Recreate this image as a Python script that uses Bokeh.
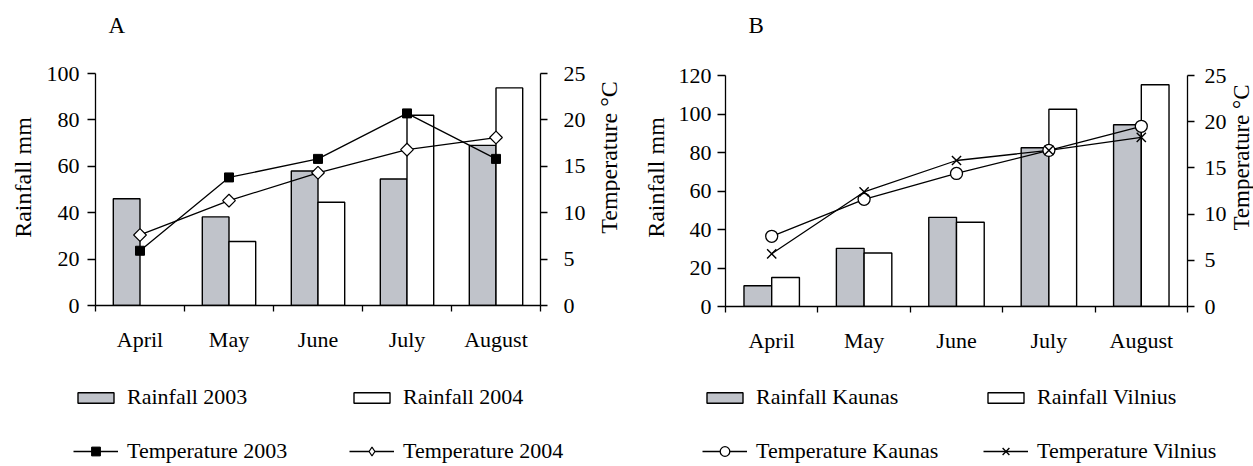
import math
import numpy as np
from bokeh.plotting import figure
from bokeh.models import Range1d, LinearAxis, FixedTicker, Legend, LegendItem, Label
from bokeh.layouts import row, column
from bokeh.embed import file_html
from bokeh.resources import INLINE

# ---------------- data ----------------
months = ["April", "May", "June", "July", "August"]

a_rain_2003 = [46.0, 38.2, 58.0, 54.5, 69.0]
a_rain_2004 = [float("nan"), 27.6, 44.5, 82.0, 93.8]
a_temp_2003 = [5.9, 13.8, 15.8, 20.7, 15.8]
a_temp_2004 = [7.6, 11.3, 14.3, 16.8, 18.1]

b_rain_kaunas = [10.8, 30.2, 46.3, 82.5, 94.4]
b_rain_vilnius = [15.1, 27.8, 43.8, 102.5, 115.2]
b_temp_kaunas = [7.6, 11.6, 14.4, 16.9, 19.5]
b_temp_vilnius = [5.7, 12.4, 15.8, 16.9, 18.3]

a_rain_ticks = [0, 20, 40, 60, 80, 100]
b_rain_ticks = [0, 20, 40, 60, 80, 100, 120]
temp_ticks = [0, 5, 10, 15, 20, 25]

a_names = ["Rainfall 2003", "Rainfall 2004", "Temperature 2003", "Temperature 2004"]
b_names = ["Rainfall Kaunas", "Rainfall Vilnius", "Temperature Kaunas", "Temperature Vilnius"]
rain_title = "Rainfall mm"
temp_title = "Temperature °C"

FONT = "Liberation Serif"
GREY = "#c0c3ca"
BAR1 = dict(fill_color=GREY, line_color="black", line_width=1.4)
BAR2 = dict(fill_color="white", line_color="black", line_width=1.4)
LINE = dict(line_color="black", line_width=1.3)
TITLE_H = 60
PANEL_H = 300


def bare_figure(width, height):
    q = figure(width=width, height=height, output_backend="svg", toolbar_location=None,
               title=None, x_range=Range1d(-0.5, len(months) - 0.5),
               y_range=Range1d(0, 1), min_border=0, x_axis_type=None, y_axis_type=None,
               frame_align=False)
    q.outline_line_color = None
    q.xgrid.visible = False
    q.ygrid.visible = False
    return q


def text_figure(text, width, height, x, y, size, angle=0, align="left",
                baseline="alphabetic"):
    q = bare_figure(width, height)
    q.add_layout(Label(x=x, y=y, x_units="screen", y_units="screen", text=text,
                       angle=angle, angle_units="deg", text_align=align,
                       text_baseline=baseline, text_font=FONT, text_font_size=size,
                       text_color="black"))
    return q


def style_text_axis(ax):
    ax.axis_line_color = "black"
    ax.axis_line_width = 1.3
    ax.major_label_text_font = FONT
    ax.major_label_text_font_size = "22px"
    ax.major_label_text_color = "black"
    ax.major_tick_in = 0
    ax.major_tick_line_width = 1.3


def make_panel(rain1, rain2, temp1, temp2, markers, rain_ticks, width, mb, l_std, r_std):
    n = len(months)
    idx = np.arange(n)
    left, right, top, bottom = mb
    p = figure(width=width, height=PANEL_H, output_backend="svg", toolbar_location=None,
               title=None, x_range=Range1d(-0.5, n - 0.5),
               y_range=Range1d(0, rain_ticks[-1]), frame_align=False,
               min_border_left=left, min_border_right=right,
               min_border_top=top, min_border_bottom=bottom)
    p.extra_y_ranges = {"temp": Range1d(0, temp_ticks[-1])}
    p.outline_line_color = None
    p.xgrid.visible = False
    p.ygrid.visible = False
    p.background_fill_color = "white"
    p.border_fill_color = "white"

    p.vbar(x=idx - 0.15, top=rain1, width=0.3, bottom=0, **BAR1)
    p.vbar(x=idx + 0.15, top=rain2, width=0.3, bottom=0, **BAR2)
    p.line(idx, temp1, y_range_name="temp", **LINE)
    p.line(idx, temp2, y_range_name="temp", **LINE)
    p.scatter(idx, temp1, y_range_name="temp", **markers[0])
    p.scatter(idx, temp2, y_range_name="temp", **markers[1])

    # x axis: labels at category centres, ticks at category boundaries
    xa = p.xaxis[0]
    xa.ticker = FixedTicker(ticks=list(range(n)),
                            minor_ticks=[i - 0.5 for i in range(n + 1)])
    xa.major_label_overrides = {i: m for i, m in enumerate(months)}
    style_text_axis(xa)
    xa.major_tick_line_color = None
    xa.major_tick_out = 0
    xa.minor_tick_line_color = "black"
    xa.minor_tick_line_width = 1.3
    xa.minor_tick_out = 6
    xa.minor_tick_in = 0
    xa.major_label_standoff = 15

    ya = p.yaxis[0]
    ya.ticker = FixedTicker(ticks=rain_ticks)
    style_text_axis(ya)
    ya.major_tick_out = 8
    ya.minor_tick_line_color = None
    ya.major_label_standoff = l_std

    ra = LinearAxis(y_range_name="temp", ticker=FixedTicker(ticks=temp_ticks))
    style_text_axis(ra)
    ra.major_tick_out = 7
    ra.minor_tick_line_color = None
    ra.major_label_standoff = r_std
    p.add_layout(ra, "right")
    return p


def make_legend(names, rain1, rain2, temp1, temp2, markers, width, x0, label_w, mk_h):
    """Figure holding the two legend rows; its renderers are hidden."""
    n = len(months)
    idx = np.arange(n)
    q = bare_figure(width, 106)
    r1 = q.vbar(x=idx, top=rain1, width=0.3, visible=False, **BAR1)
    r2 = q.vbar(x=idx, top=rain2, width=0.3, visible=False, **BAR2)
    l1 = q.line(idx, temp1, visible=False, **LINE)
    l2 = q.line(idx, temp2, visible=False, **LINE)
    s1 = q.scatter(idx, temp1, visible=False, **markers[0])
    s2 = q.scatter(idx, temp2, visible=False, **markers[1])
    common = dict(orientation="horizontal", glyph_width=45, label_standoff=9,
                  label_width=label_w, label_height=21, spacing=0, padding=0, margin=0,
                  border_line_color=None, background_fill_alpha=0,
                  inactive_fill_alpha=0, label_text_font=FONT,
                  label_text_font_size="22px", label_text_color="black")
    leg1 = Legend(items=[LegendItem(label=names[0], renderers=[r1]),
                         LegendItem(label=names[1], renderers=[r2])],
                  location=(x0, 56), glyph_height=13, **common)
    leg2 = Legend(items=[LegendItem(label=names[2], renderers=[l1, s1]),
                         LegendItem(label=names[3], renderers=[l2, s2])],
                  location=(x0, 2), glyph_height=mk_h, **common)
    q.add_layout(leg1)
    q.add_layout(leg2)
    return q


mk_a = [dict(marker="square", size=9, fill_color="black", line_color="black"),
        dict(marker="square", angle=math.pi / 4, size=9, fill_color="white",
             line_color="black", line_width=1.2)]
mk_a_legend = [mk_a[0],
               dict(marker="diamond", size=9, fill_color="white", line_color="black",
                    line_width=1.2)]
mk_b = [dict(marker="circle", size=12, fill_color="white", line_color="black",
             line_width=1.3),
        dict(marker="x", size=13, line_color="black", line_width=1.4)]

# panel A: 0..620 px, panel B: 620..1253 px
ta = text_figure("A", 620, TITLE_H, 108, 35, "23px")
tb = text_figure("B", 633, TITLE_H, 128, 35, "23px")

yl_a = text_figure(rain_title, 38, PANEL_H, 22, 183, "24px", 90, "center", "middle")
pa = make_panel(a_rain_2003, a_rain_2004, a_temp_2003, a_temp_2004, mk_a,
                a_rain_ticks, 552, (57, 50, 13, 55), 8, 16)
yr_a = text_figure(temp_title, 30, PANEL_H, 18, 203, "24px", 90, "center", "middle")

yl_b = text_figure(rain_title, 50, PANEL_H, 35, 183, "24px", 90, "center", "middle")
pb = make_panel(b_rain_kaunas, b_rain_vilnius, b_temp_kaunas, b_temp_vilnius,
                mk_b, b_rain_ticks, 559, (55, 39, 15, 54), 6, 10)
yr_b = text_figure(temp_title, 24, PANEL_H, 12, 203, "23px", 90, "center", "middle")

la = make_legend(a_names, a_rain_2003, a_rain_2004, a_temp_2003, a_temp_2004,
                 mk_a_legend, 620, 73, 222, 22)
lb = make_legend(b_names, b_rain_kaunas, b_rain_vilnius, b_temp_kaunas, b_temp_vilnius,
                 mk_b, 633, 82, 227, 24)

layout = column(row(ta, tb),
                row(yl_a, pa, yr_a, yl_b, pb, yr_b),
                row(la, lb))
open("out.html", "w").write(file_html(layout, INLINE))
